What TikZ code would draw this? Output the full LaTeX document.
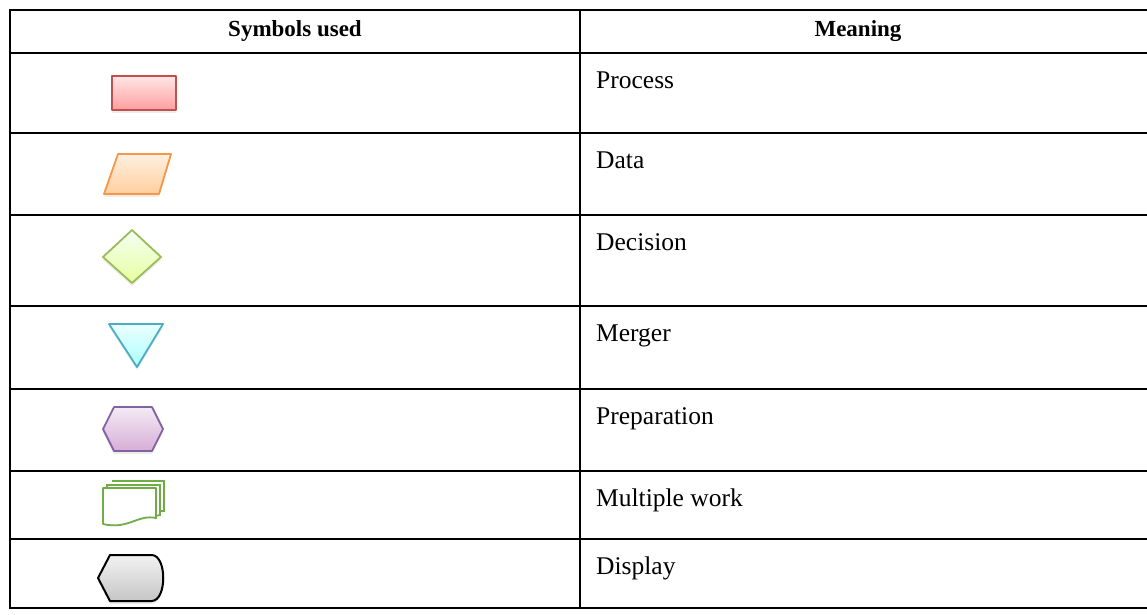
\documentclass[tikz,border=0pt]{standalone}
\usepackage{fontspec}
\setmainfont{Liberation Serif}
\usetikzlibrary{shadows}
\definecolor{procline}{HTML}{C0504D}
\definecolor{dataline}{HTML}{F79646}
\definecolor{decline}{HTML}{9BBB59}
\definecolor{merline}{HTML}{4BACC6}
\definecolor{prepline}{HTML}{8064A2}
\definecolor{multline}{HTML}{70AD47}
\tikzset{
  rule/.style={line width=2.2pt, black},
  head/.style={font=\fontsize{23}{26}\selectfont\bfseries, inner sep=0pt},
  cell/.style={font=\fontsize{25.5}{28}\selectfont, anchor=base west, inner sep=0pt},
  sym/.style={line width=1.8pt, line join=round, drop shadow={opacity=0.15, shadow xshift=0pt, shadow yshift=-3pt}},
}
\begin{document}
\begin{tikzpicture}[x=1pt,y=-1pt]
\useasboundingbox (0,0) rectangle (1147,614);
% table rules
\draw[rule] (1147,10) -- (10,10) -- (10,608) -- (1147,608);
\draw[rule] (580,10) -- (580,608);
\foreach \yy in {53,133,215,306,389,471,539} {\draw[rule] (10,\yy) -- (1147,\yy);}
% header
\node[head] (h1) at (295,31) {Symbols used};
\node[head] (h2) at (858,31) {Meaning};
% meanings
\node[cell] (m1) at (596,88) {Process};
\node[cell] (m2) at (596,168) {Data};
\node[cell] (m3) at (596,250) {Decision};
\node[cell] (m4) at (596,341) {Merger};
\node[cell] (m5) at (596,424) {Preparation};
\node[cell] (m6) at (596,506) {Multiple work};
\node[cell] (m7) at (596,574) {Display};
% process
\path[sym, draw=procline, top color=red!10, bottom color=red!38] (112,76) rectangle (176,110);
% data
\path[sym, draw=dataline, top color=orange!12, bottom color=orange!38] (118,154) -- (171,154) -- (159,194) -- (104,194) -- cycle;
% decision
\path[sym, draw=decline, top color=green!4!white, bottom color=green!25!yellow!38] (132,230) -- (161,257) -- (132,283) -- (103,257) -- cycle;
% merger
\path[sym, draw=merline, top color=cyan!8, bottom color=cyan!32] (109,324) -- (163,324) -- (137,367) -- cycle;
% preparation
\path[sym, draw=prepline, top color=violet!8, bottom color=violet!32] (114,407) -- (152,407) -- (163,429) -- (152,451) -- (114,451) -- (103,429) -- cycle;
% multiple work
\path[draw=multline, line width=1.8pt, fill=white] (112,481) -- (164,481) -- (164,511) -- (158,511);
\path[draw=multline, line width=1.8pt, fill=white] (107,485) -- (160,485) -- (160,515) -- (155,516) -- (107,516) -- cycle;
\path[draw=multline, line width=1.8pt, fill=white, line join=round] (103,488) -- (156,488) -- (156,518) .. controls (138,514) and (128,530) .. (103,524) -- cycle;
% display
\path[sym, draw=black, line width=2pt, top color=gray!10, bottom color=gray!45] (98,578) -- (110,555) -- (152,555) .. controls (167,556) and (167,600) .. (152,601) -- (110,601) -- cycle;
\end{tikzpicture}
\end{document}
